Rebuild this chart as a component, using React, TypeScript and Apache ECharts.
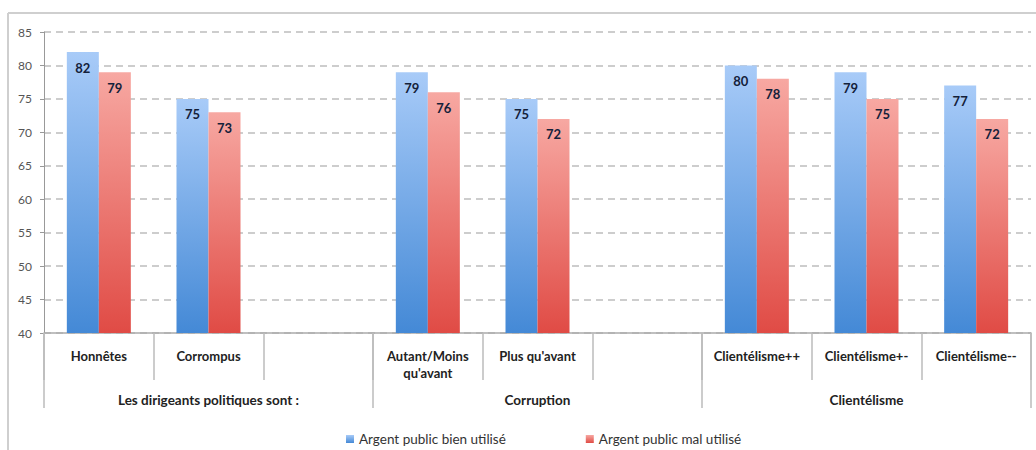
import React, { useEffect, useRef } from "react";
import * as echarts from "echarts";

const categories = [
  "Honnêtes",
  "Corrompus",
  "",
  "Autant/Moins\nqu'avant",
  "Plus qu'avant",
  "",
  "Clientélisme++",
  "Clientélisme+-",
  "Clientélisme--",
];
const groups = ["Les dirigeants politiques sont :", "Corruption", "Clientélisme"];
const bienUtilise = [82, 75, null, 79, 75, null, 80, 79, 77];
const malUtilise = [79, 73, null, 76, 72, null, 78, 75, 72];
const seriesNames = ["Argent public bien utilisé", "Argent public mal utilisé"];

const FONT = "Lato, 'Open Sans', sans-serif";

export default function App() {
  const ref = useRef<HTMLDivElement>(null);
  useEffect(() => {
    if (!ref.current) return;
    const chart = echarts.init(ref.current, null, { renderer: "svg" });
    const grad = (top: string, bottom: string) =>
      new echarts.graphic.LinearGradient(0, 0, 0, 1, [
        { offset: 0, color: top },
        { offset: 1, color: bottom },
      ]);
    const label = {
      show: true,
      position: "insideTop" as const,
      distance: 9,
      color: "#14213a",
      fontWeight: "bold" as const,
      fontSize: 13,
      fontFamily: FONT,
    };
    chart.setOption({
      animation: false,
      textStyle: { fontFamily: FONT },
      grid: { left: 44, right: 5, top: 32, bottom: 117, containLabel: false },
      legend: {
        data: seriesNames,
        left: 341,
        top: 427,
        itemWidth: 8,
        itemHeight: 8,
        itemGap: 80,
        icon: "rect",
        textStyle: { fontSize: 13.5, color: "#333", fontFamily: FONT },
      },
      xAxis: [
        {
          type: "category",
          data: categories,
          position: "bottom",
          axisLine: { show: true, lineStyle: { color: "#aaa", width: 1.5 } },
          axisTick: { show: true, length: 47, interval: 0, lineStyle: { color: "#bbb", width: 1.5 } },
          axisLabel: {
            interval: 0,
            margin: 14,
            fontSize: 13,
            fontWeight: "bold",
            color: "#222",
            fontFamily: FONT,
            lineHeight: 17,
          },
        },
        {
          type: "category",
          data: groups,
          position: "bottom",
          axisLine: { show: false },
          axisTick: { show: true, length: 75, interval: 0, lineStyle: { color: "#bbb", width: 1.5 } },
          axisLabel: {
            interval: 0,
            margin: 60,
            fontSize: 13.5,
            fontWeight: "bold",
            color: "#222",
            fontFamily: FONT,
          },
        },
      ],
      yAxis: {
        type: "value",
        min: 40,
        max: 85,
        interval: 5,
        axisLine: { show: true, lineStyle: { color: "#999", width: 1 } },
        axisTick: { show: true, length: 4, lineStyle: { color: "#999" } },
        axisLabel: { fontSize: 12, color: "#555", margin: 12, fontFamily: FONT },
        splitLine: { show: true, lineStyle: { color: "#bdbdbd", width: 1.5, type: [7, 5] } },
      },
      series: [
        {
          name: seriesNames[0],
          type: "bar",
          xAxisIndex: 0,
          data: bienUtilise,
          barWidth: 32,
          barGap: "0%",
          itemStyle: { color: grad("#a8cbf8", "#4489d6") },
          label,
        },
        {
          name: seriesNames[1],
          type: "bar",
          xAxisIndex: 0,
          data: malUtilise,
          barWidth: 32,
          barGap: "0%",
          itemStyle: { color: grad("#f7a8a2", "#e04b45") },
          label,
        },
      ],
      graphic: [
        { type: "line", shape: { x1: 8, y1: 13, x2: 8, y2: 450 }, style: { stroke: "#cfcfcf", lineWidth: 2 } },
        { type: "line", shape: { x1: 8, y1: 13, x2: 1036, y2: 13 }, style: { stroke: "#cfcfcf", lineWidth: 2 } },
      ],
    });
    return () => chart.dispose();
  }, []);
  return (
    <div
      ref={ref}
      style={{ position: "absolute", left: 0, top: 0, width: 1036, height: 450, background: "#fff" }}
    />
  );
}
